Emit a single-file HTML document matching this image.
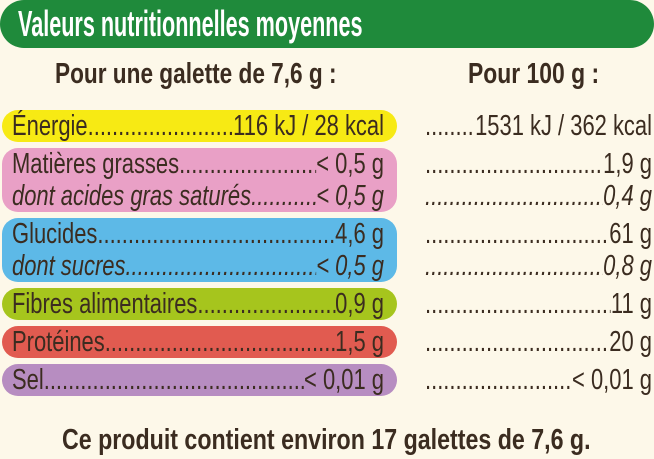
<!DOCTYPE html>
<html><head><meta charset="utf-8"><style>
body{margin:0;width:654px;height:459px;background:#fdf8e9;position:relative;overflow:hidden;font-family:"Liberation Sans",sans-serif;color:#3b2c20}
.hdr{position:absolute;left:0;top:0;width:654px;height:48px;background:#1f8a3b;border-radius:24px}
.sc{position:absolute;transform-origin:left top;white-space:nowrap}
.pill{position:absolute;left:2px;width:395px;border-radius:16px}
.line{display:flex;width:100%;overflow:hidden;line-height:32px}
.line .d{flex:1;overflow:hidden;white-space:nowrap}
.line .d::after{content:"........................................................................................................................................................................"}
</style></head><body>
<div class="hdr"></div>
<div class="sc" style="left:18px;top:3px;font-size:36px;font-weight:bold;color:#fff;transform:scaleX(0.6)">Valeurs nutritionnelles moyennes</div>
<div class="sc" style="left:55px;top:58px;font-size:29px;font-weight:bold;transform:scaleX(0.78)">Pour une galette de 7,6 g :</div>
<div class="sc" style="left:468px;top:58px;font-size:29px;font-weight:bold;transform:scaleX(0.79)">Pour 100 g :</div>

<div class="pill" style="top:110px;height:32px;background:#f7ea14"></div>
<div class="pill" style="top:148px;height:64px;background:#e9a0c6"></div>
<div class="pill" style="top:218px;height:64px;background:#5db9e7"></div>
<div class="pill" style="top:288px;height:32px;background:#a6c51d"></div>
<div class="pill" style="top:326px;height:32px;background:#e15b50"></div>
<div class="pill" style="top:364px;height:32px;background:#b78dc1"></div>

<div id="rows"></div>
<div class="sc" style="left:62px;top:424px;font-size:29px;font-weight:bold;transform:scaleX(0.80)">Ce produit contient environ 17 galettes de 7,6 g.</div>
<script>
const labels=["Énergie","Matières grasses","dont acides gras saturés","Glucides","dont sucres","Fibres alimentaires","Protéines","Sel"];
const perServing=["116 kJ / 28 kcal","< 0,5 g","< 0,5 g","4,6 g","< 0,5 g","0,9 g","1,5 g","< 0,01 g"];
const per100=["1531 kJ / 362 kcal","1,9 g","0,4 g","61 g","0,8 g","11 g","20 g","< 0,01 g"];
const italic=[0,0,1,0,1,0,0,0];
const tops=[110,148,180,218,250,288,326,364];
const S=0.77;
const root=document.getElementById('rows');
labels.forEach((l,k)=>{
  const a=document.createElement('div');
  a.className='sc';
  
  
  a.style.cssText=`left:12px;top:${tops[k]}px;width:${372/S}px;font-size:28.5px;transform:scaleX(${S});${italic[k]?'font-style:italic;':''}`;
  a.innerHTML=`<div class="line"><span>${l}</span><span class="d"></span><span>${perServing[k].replace('<','&lt;')}</span></div>`;
  root.appendChild(a);
  const b=document.createElement('div');
  b.className='sc';
  
  
  b.style.cssText=`left:425px;top:${tops[k]}px;width:${227/S}px;font-size:28.5px;transform:scaleX(${S});${italic[k]?'font-style:italic;':''}`;
  b.innerHTML=`<div class="line"><span class="d"></span><span>${per100[k].replace('<','&lt;')}</span></div>`;
  root.appendChild(b);
});
</script>
</body></html>
